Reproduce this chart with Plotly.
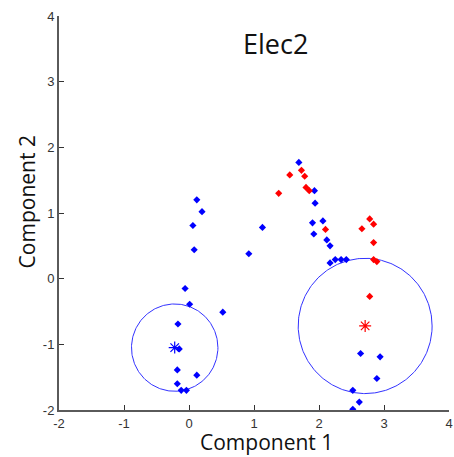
import numpy as np
import plotly.graph_objects as go

# ---- data ----
blue_x = [0.12, 0.20, 0.06, 0.08, -0.06, 0.01, 0.52, -0.17, -0.15, -0.18, 0.12, -0.18, -0.12, -0.04,
          0.92, 1.13, 1.69, 1.93, 1.94, 1.90, 2.06, 1.92, 2.12, 2.17, 2.17, 2.25, 2.34, 2.42,
          2.64, 2.94, 2.89, 2.52, 2.62, 2.52]
blue_y = [1.20, 1.02, 0.81, 0.44, -0.15, -0.39, -0.51, -0.69, -1.07, -1.39, -1.47, -1.60, -1.70, -1.70,
          0.38, 0.78, 1.77, 1.34, 1.15, 0.85, 0.88, 0.68, 0.59, 0.50, 0.24, 0.29, 0.29, 0.29,
          -1.14, -1.19, -1.52, -1.70, -1.88, -1.99]
red_x = [1.73, 1.55, 1.78, 1.80, 1.85, 1.38, 2.10, 2.66, 2.78, 2.84, 2.84, 2.84, 2.89, 2.78]
red_y = [1.65, 1.58, 1.56, 1.39, 1.34, 1.30, 0.75, 0.76, 0.91, 0.83, 0.55, 0.29, 0.26, -0.27]

centroid_x = [-0.22, 2.71]
centroid_y = [-1.05, -0.72]
centroid_colors = ["#0000ff", "#ff0000"]
circle_r = [0.665, 1.03]

x_ticks = [-2, -1, 0, 1, 2, 3, 4]
y_ticks = [-2, -1, 0, 1, 2, 3, 4]
title_text = "Elec2"
xlabel = "Component 1"
ylabel = "Component 2"

fig = go.Figure()

# circles around centroids
theta = np.linspace(0, 2 * np.pi, 300)
for cx, cy, r in zip(centroid_x, centroid_y, circle_r):
    fig.add_trace(go.Scatter(x=cx + r * np.cos(theta), y=cy + r * np.sin(theta), mode="lines",
                             line=dict(color="rgb(50,50,255)", width=1), hoverinfo="skip"))

fig.add_trace(go.Scatter(x=blue_x, y=blue_y, mode="markers",
                         marker=dict(symbol="diamond", size=5.5, color="#0000ff", line=dict(width=0))))
fig.add_trace(go.Scatter(x=red_x, y=red_y, mode="markers",
                         marker=dict(symbol="diamond", size=5.5, color="#ff0000", line=dict(width=0))))
for cx, cy, cc in zip(centroid_x, centroid_y, centroid_colors):
    fig.add_trace(go.Scatter(x=[cx], y=[cy], mode="markers",
                             marker=dict(symbol="asterisk-open", size=10, color=cc,
                                         line=dict(width=1.2, color=cc))))

axis_common = dict(showgrid=False, zeroline=False, showline=True, linecolor="#5a5a5a", linewidth=2,
                   ticks="inside", ticklen=5, tickwidth=1, tickcolor="#333333",
                   tickfont=dict(family="Liberation Sans, Arial", size=13, color="#333333"),
                   mirror=False, automargin=False, ticklabeloverflow="allow")

fig.update_layout(
    width=454, height=457,
    margin=dict(l=59, r=5, t=16, b=47, autoexpand=False),
    paper_bgcolor="white", plot_bgcolor="white",
    showlegend=False,
    xaxis=dict(range=[-2, 4], tickvals=x_ticks, ticktext=[str(v) for v in x_ticks], **axis_common),
    yaxis=dict(range=[-2, 4], tickvals=y_ticks, ticktext=[str(v) for v in y_ticks], **axis_common),
    annotations=[
        dict(text=title_text, xref="paper", yref="paper", x=0.556, y=0.929, xanchor="center",
             yanchor="middle", showarrow=False, font=dict(family="Open Sans", size=27, color="#111111")),
        dict(text=xlabel, xref="paper", yref="paper", x=0.531, y=-0.082, xanchor="center",
             yanchor="middle", showarrow=False, font=dict(family="Open Sans", size=21, color="#111111")),
        dict(text=ylabel, xref="paper", yref="paper", x=-0.081, y=0.528, xanchor="center",
             yanchor="middle", textangle=-90, showarrow=False,
             font=dict(family="Open Sans", size=21, color="#111111")),
    ],
)

fig.write_html("out.html", config={"displayModeBar": False},
               post_script="document.body.style.margin='0';document.body.style.overflow='hidden';")
